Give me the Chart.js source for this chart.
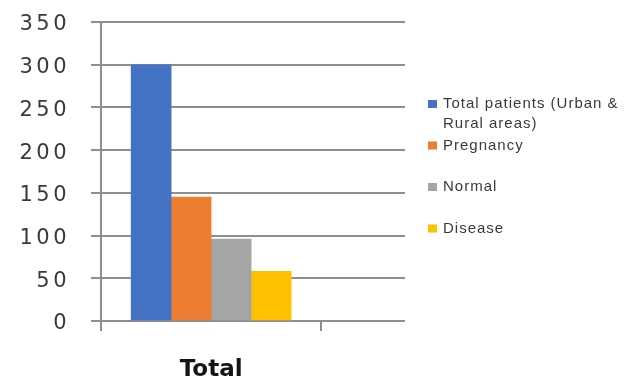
<!DOCTYPE html>
<html>
<head>
<meta charset="utf-8">
<script src="https://cdn.jsdelivr.net/npm/chart.js@4/dist/chart.umd.min.js"></script>
<style>
  html, body { margin: 0; padding: 0; background: #ffffff; }
  canvas { display: block; }
</style>
</head>
<body>
<canvas id="chart" width="631" height="381"></canvas>
<script>
// Patient counts by group
const categories = ['Total'];
const seriesNames = [['Total patients (Urban &', 'Rural areas)'], 'Pregnancy', 'Normal', 'Disease'];
const totalPatients = [300];
const pregnancy = [145];
const normal = [96];
const disease = [58];
const yTickValues = [0, 50, 100, 150, 200, 250, 300, 350];

const seriesValues = [totalPatients, pregnancy, normal, disease];
const seriesColors = ['#4472C4', '#ED7D31', '#A5A5A5', '#FFC000'];
const gridColor = '#8e8e8e';

const datasets = seriesValues.map((vals, i) => ({
  label: seriesNames[i],
  data: vals.map((v, j) => ({ x: j, y: v })),
  backgroundColor: seriesColors[i],
  borderWidth: 0,
  barThickness: 40
}));

// Wider letter spacing (and a small downward nudge) for the value axis labels
function spacedLabels(scale, spacing, dy) {
  if (scale._spaced) return;
  const draw = scale.drawLabels.bind(scale);
  scale.drawLabels = (area) => {
    scale.ctx.save();
    scale.ctx.letterSpacing = spacing;
    scale.ctx.translate(0, dy);
    draw(area);
    scale.ctx.restore();
  };
  scale._spaced = true;
}

// Legend block to the right of the plot
const sideLegend = {
  id: 'sideLegend',
  afterDraw(chart) {
    const ctx = chart.ctx;
    const x = chart.chartArea.right + 23;
    const top = chart.chartArea.top + 82;
    ctx.save();
    ctx.font = '15px "Liberation Sans", Arial, sans-serif';
    ctx.letterSpacing = '1px';
    ctx.textBaseline = 'middle';
    ctx.textAlign = 'left';
    chart.data.datasets.forEach((ds, i) => {
      const y = top + i * 41.5;
      ctx.fillStyle = ds.backgroundColor;
      ctx.fillRect(x, y - 4, 9, 8);
      ctx.fillStyle = '#3a3a3a';
      const lines = Array.isArray(ds.label) ? ds.label : [ds.label];
      lines.forEach((t, k) => ctx.fillText(t, x + 15, y + k * 20));
    });
    ctx.restore();
  }
};

new Chart(document.getElementById('chart'), {
  type: 'bar',
  data: { datasets },
  plugins: [sideLegend],
  options: {
    responsive: false,
    animation: false,
    layout: { padding: { top: 22, right: 226, bottom: 0, left: 0 } },
    plugins: {
      legend: { display: false },
      tooltip: { enabled: false }
    },
    scales: {
      x: {
        type: 'linear',
        min: -0.5,
        max: 0.88,
        offset: false,
        afterBuildTicks: s => { s.ticks = [-0.5, 0, 0.5].map(v => ({ value: v })); },
        afterFit: s => { s.height = 60; s.paddingLeft = 0; s.paddingRight = 0; },
        grid: {
          offset: false,
          drawOnChartArea: false,
          drawTicks: true,
          tickLength: 10,
          lineWidth: 2,
          color: gridColor,
          tickColor: c => (c.tick && c.tick.value === 0) ? 'rgba(0,0,0,0)' : gridColor
        },
        border: { display: false },
        ticks: {
          autoSkip: false,
          maxRotation: 0,
          padding: 28,
          color: '#151515',
          font: { family: 'DejaVu Sans', size: 23, weight: 'bold', lineHeight: 1 },
          callback: v => Number.isInteger(v) ? categories[v] : ''
        }
      },
      y: {
        min: 0,
        max: 350,
        afterBuildTicks: s => { s.ticks = yTickValues.map(v => ({ value: v })); },
        afterFit: s => { s.width = 101; s.paddingTop = 0; s.paddingBottom = 0; },
        afterUpdate: s => spacedLabels(s, '3.5px', 3),
        grid: { color: gridColor, lineWidth: 2, tickLength: 10, drawTicks: true },
        border: { display: true, color: gridColor, width: 2 },
        ticks: {
          padding: 21,
          color: '#3a3a3a',
          font: { family: 'DejaVu Sans', size: 21 }
        }
      }
    }
  }
});
</script>
</body>
</html>
